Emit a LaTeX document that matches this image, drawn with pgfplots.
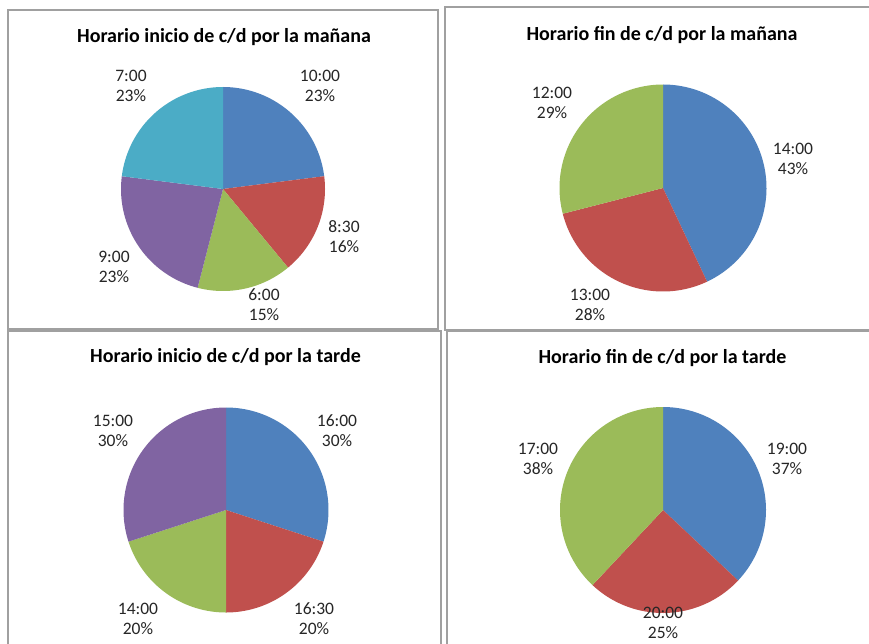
\documentclass[border=0pt]{standalone}
\usepackage{fontspec}
\setmainfont{Carlito}
\usepackage{pgfplots}
\usepackage{pgfplotstable}
\pgfplotsset{compat=1.18}

\definecolor{xlblue}{RGB}{79,129,189}
\definecolor{xlred}{RGB}{192,80,77}
\definecolor{xlgreen}{RGB}{155,187,89}
\definecolor{xlpurple}{RGB}{128,100,162}
\definecolor{xlaqua}{RGB}{75,172,198}
\definecolor{boxc}{RGB}{160,160,160}

% label: category, pct: share, lx/ly: label centre relative to pie centre (pt)
\pgfplotstableread{
label pct color lx ly
10:00 23 xlblue 97 103
8:30 16 xlred 121 -48
6:00 15 xlgreen 41 -116
9:00 23 xlpurple -109 -78
7:00 23 xlaqua -92 103
}\inicioman
\pgfplotstableread{
label pct color lx ly
14:00 43 xlblue 130 29
13:00 28 xlred -73 -117
12:00 29 xlgreen -111 85
}\finman
\pgfplotstableread{
label pct color lx ly
16:00 30 xlblue 111 79
16:30 20 xlred 88 -109
14:00 20 xlgreen -88 -109
15:00 30 xlpurple -113 79
}\iniciotarde
\pgfplotstableread{
label pct color lx ly
19:00 37 xlblue 124 51
20:00 25 xlred 0 -113
17:00 38 xlgreen -125 51
}\fintarde

% slices clockwise from 12 o'clock, as Excel does
\newcommand\drawpie[2]{%
  \def\pieR{#2}%
  \def\pieacc{0}%
  \pgfplotstablegetrowsof{#1}%
  \pgfmathtruncatemacro\pielast{\pgfplotsretval-1}%
  \pgfplotsforeachungrouped \i in {0,...,\pielast}{%
    \pgfplotstablegetelem{\i}{pct}\of{#1}\let\piev\pgfplotsretval
    \pgfplotstablegetelem{\i}{color}\of{#1}\let\piec\pgfplotsretval
    \pgfplotstablegetelem{\i}{label}\of{#1}\let\piel\pgfplotsretval
    \pgfplotstablegetelem{\i}{lx}\of{#1}\let\pielx\pgfplotsretval
    \pgfplotstablegetelem{\i}{ly}\of{#1}\let\piely\pgfplotsretval
    \pgfmathsetmacro\pa{90-3.6*\pieacc}%
    \pgfmathsetmacro\pieacc{\pieacc+\piev}%
    \pgfmathsetmacro\pb{90-3.6*\pieacc}%
    \edef\doslice{%
      \noexpand\addplot[fill=\piec, draw=none, domain=\pb:\pa, samples=90, variable=\noexpand\t]
        ({\pieR*cos(\noexpand\t)},{\pieR*sin(\noexpand\t)}) -- (axis cs:0,0) -- cycle;
      \noexpand\node[lbl] at (axis cs:\pielx,\piely) {\piel\noexpand\\\piev\noexpand\%};
    }%
    \doslice
  }%
}

\pgfplotsset{
  pie/.style={anchor=center, x=1pt, y=1pt, xmin=-110, xmax=110, ymin=-110, ymax=110,
    hide axis, clip=false},
}
\tikzset{
  lbl/.style={align=center, font=\fontsize{17.5}{20}\selectfont, text=black!85, inner sep=0pt},
  ttl/.style={anchor=base, font=\bfseries\fontsize{20}{22}\selectfont},
}

\begin{document}
\begin{tikzpicture}
\useasboundingbox (0pt,0pt) rectangle (869pt,-644pt);
\clip (0pt,0pt) rectangle (869pt,-644pt);
\fill[white] (0pt,0pt) rectangle (869pt,-644pt);

\draw[boxc, line width=1.5pt] (8pt,-10pt) rectangle (438pt,-329pt);
\draw[boxc, line width=1.5pt] (445pt,-7pt) rectangle (900pt,-330pt);
\draw[boxc, line width=1.5pt] (8pt,-331pt) rectangle (441pt,-700pt);
\draw[boxc, line width=1.5pt] (447pt,-331pt) rectangle (900pt,-700pt);

\node[ttl] at (224pt,-42.7pt) {Horario inicio de c/d por la mañana};
\node[ttl] at (662pt,-40.7pt) {Horario fin de c/d por la mañana};
\node[ttl] at (225.5pt,-362.7pt) {Horario inicio de c/d por la tarde};
\node[ttl] at (662.5pt,-363.3pt) {Horario fin de c/d por la tarde};

\begin{axis}[pie, at={(223pt,-189pt)}]
\drawpie{\inicioman}{102}
\end{axis}

\begin{axis}[pie, at={(663pt,-188pt)}]
\drawpie{\finman}{103.5}
\end{axis}

\begin{axis}[pie, at={(226pt,-510pt)}]
\drawpie{\iniciotarde}{102.5}
\end{axis}

\begin{axis}[pie, at={(663pt,-510pt)}]
\drawpie{\fintarde}{103}
\end{axis}
\end{tikzpicture}
\end{document}
